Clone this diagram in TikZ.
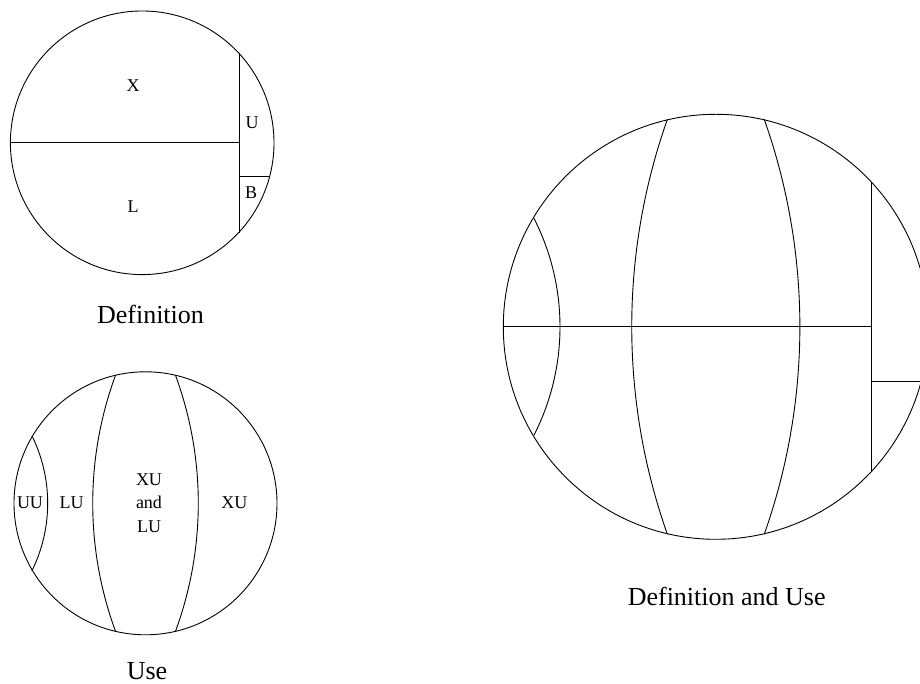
\documentclass[tikz,border=0pt]{standalone}
\usepackage{fontspec}
\setmainfont{Liberation Serif}
\begin{document}
\begin{tikzpicture}[x=1pt,y=1pt,line width=0.9pt,
  lbl/.style={inner sep=0pt,font=\fontsize{18}{23.7}\selectfont,align=center},
  captxt/.style={inner sep=0pt,font=\fontsize{26}{30}\selectfont}]
\useasboundingbox (0,0) rectangle (920,684);
\clip (0,0) rectangle (920,684);
% ---- Definition circle ----
\coordinate (dc) at (142.2,541.2);
\draw (dc) circle[radius=131.8];
\coordinate (dh1) at (10.4,541.2);
\coordinate (dh2) at (239.3,541.2);
\coordinate (dv1) at (239.3,631.0);
\coordinate (dv2) at (239.3,451.4);
\coordinate (db1) at (239.3,507.3);
\coordinate (db2) at (269.7,507.3);
\draw (dh1) -- (dh2);
\draw (dv1) -- (dv2);
\draw (db1) -- (db2);
\node[lbl] (lx) at (133,598) {X};
\node[lbl] (lu) at (252,561) {U};
\node[lbl] (lb) at (251,491) {B};
\node[lbl] (ll) at (133,477) {L};
\node[captxt] (cdef) at (150.5,370) {Definition};
% ---- Use circle ----
\coordinate (uc) at (145.5,180.7);
\draw (uc) circle[radius=131.5];
\draw (-104.8,180.7) ++(-26.3:152.5) arc[start angle=-26.3,end angle=26.3,radius=152.5];
\draw (463.4,180.7) ++(159.8:370.7) arc[start angle=159.8,end angle=200.2,radius=370.7];
\draw (-172.4,180.7) ++(-20.2:370.7) arc[start angle=-20.2,end angle=20.2,radius=370.7];
\node[lbl] (luu) at (30,181) {UU};
\node[lbl] (llu) at (71.7,181) {LU};
\node[lbl] (lxl) at (149,181) {XU\\and\\LU};
\node[lbl] (lxu) at (234.3,181) {XU};
\node[captxt] (cuse) at (147,13) {Use};
% ---- Definition and Use circle ----
\coordinate (rc) at (715.8,357.2);
\draw (rc) circle[radius=212.5];
\coordinate (rh1) at (503.3,357.2);
\coordinate (rh2) at (871.7,357.2);
\coordinate (rv1) at (871.7,501.6);
\coordinate (rv2) at (871.7,212.8);
\coordinate (rb1) at (871.7,303);
\coordinate (rb2) at (921.3,303);
\draw (rh1) -- (rh2);
\draw (rv1) -- (rv2);
\draw (rb1) -- (rb2);
\draw (321.2,357.2) ++(-27:238.8) arc[start angle=-27,end angle=27,radius=238.8];
\draw (1253.3,357.2) ++(160.51:621.6) arc[start angle=160.51,end angle=199.49,radius=621.6];
\draw (178.3,357.2) ++(-19.49:621.6) arc[start angle=-19.49,end angle=19.49,radius=621.6];
\node[captxt] (cdu) at (726.7,87.3) {Definition and Use};
\end{tikzpicture}
\end{document}
